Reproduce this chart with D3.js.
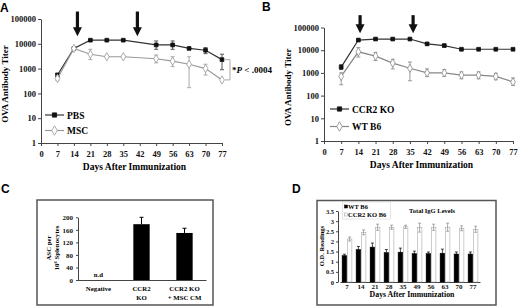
<!DOCTYPE html>
<html>
<head>
<meta charset="utf-8">
<script src="https://cdn.jsdelivr.net/npm/d3@7"></script>
<style>
  body { margin: 0; background: #fff; }
  text { font-family: "Liberation Serif", "Times New Roman", serif; font-weight: bold; }
</style>
</head>
<body>
<script>
// ---- panel A data (OVA titer, PBS vs MSC)
var daysA = [7, 14, 21, 28, 35, 49, 56, 63, 70, 77];
var pbs   = [550, 6500, 14000, 14000, 14000, 9000, 9000, 6500, 5500, 2300];
var pbsLo = [450, 6000, 13000, 13000, 13000, 6000, 6000, 6000, 4000, 900];
var pbsHi = [650, 7000, 15000, 15000, 15000, 13000, 13000, 7000, 7000, 3800];
var msc   = [400, 6500, 3800, 3000, 3000, 2500, 2000, 1500, 1000, 350];
var mscLo = [330, 6000, 2300, 2800, 2800, 1700, 1200, 170, 550, 330];
var mscHi = [500, 7000, 6000, 3200, 3200, 3500, 3000, 3000, 1500, 380];
var arrowsA = [15.5, 41];

// ---- panel B data (CCR2 KO vs WT B6)
var daysB  = [7, 14, 21, 28, 35, 42, 49, 56, 63, 70, 77];
var ccr2   = [1800, 28000, 31000, 31000, 31000, 19000, 16000, 11000, 11000, 11000, 11000];
var ccr2Lo = [1400, 25000, 29000, 29000, 29000, 16500, 14000, 10500, 10500, 10500, 10500];
var ccr2Hi = [2300, 31000, 33000, 33000, 33000, 21500, 18000, 11500, 11500, 11500, 11500];
var wt     = [700, 8500, 5500, 2700, 1600, 1000, 1000, 800, 800, 700, 400];
var wtLo   = [300, 5000, 3500, 1500, 450, 700, 700, 550, 550, 500, 280];
var wtHi   = [1000, 13000, 8000, 4000, 3000, 1500, 1400, 1100, 1100, 950, 600];
var arrowsB = [14.7, 36.3];

var dayTicks = [0, 7, 14, 21, 28, 35, 42, 49, 56, 63, 70, 77];
var titerTicks = [1, 10, 100, 1000, 10000, 100000];

// ---- panel C data (ASC)
var groupsC = ["Negative", "CCR2 KO", "CCR2 KO + MSC CM"];
var ascVals = [0, 178, 150];
var ascErr  = [0, 22, 15];
var ascTicks = [0, 40, 80, 120, 160, 200];

// ---- panel D data (total IgG)
var daysD   = [7, 14, 21, 28, 35, 49, 56, 63, 70, 77];
var wtIgG   = [1.3, 1.6, 1.72, 1.45, 1.47, 1.4, 1.4, 1.42, 1.38, 1.38];
var wtIgGe  = [0.07, 0.15, 0.2, 0.15, 0.2, 0.12, 0.08, 0.2, 0.1, 0.1];
var koIgG   = [2.12, 2.45, 2.7, 2.7, 2.72, 2.68, 2.7, 2.7, 2.65, 2.6];
var koIgGe  = [0.1, 0.12, 0.15, 0.1, 0.08, 0.22, 0.15, 0.2, 0.12, 0.15];
var odTicks = [0, 0.5, 1, 1.5, 2, 2.5, 3, 3.5];

var svg = d3.select("body")
    .append("svg")
    .attr("width", 520)
    .attr("height", 306);

svg.append("rect").attr("width", 520).attr("height", 306).attr("fill", "#fff");

function panelLetter(x, y, t) {
    svg.append("text")
        .attr("x", x).attr("y", y)
        .style("font-family", "'Liberation Sans', Arial, sans-serif")
        .style("font-size", "12px")
        .text(t);
}

function styleAxis(g, size) {
    g.select(".domain").attr("stroke", "#444");
    g.selectAll(".tick line").attr("stroke", "#444");
    g.selectAll("text").style("font-size", size).attr("fill", "#111")
        .style("font-family", "'Liberation Serif', serif");
}

// line chart with log titer axis
function linePanel(p) {
    var xScale = d3.scaleLinear().domain([0, 77]).range(p.xr);
    var yScale = d3.scaleLog().domain([1, 100000]).range(p.yr);

    var gy = svg.append("g")
        .attr("transform", "translate(" + p.xr[0] + ",0)")
        .call(d3.axisLeft(yScale).tickValues(titerTicks).tickFormat(d3.format("d"))
            .tickSize(3).tickSizeOuter(0).tickPadding(2));
    styleAxis(gy, "8.5px");

    var gx = svg.append("g")
        .attr("transform", "translate(0," + p.yr[0] + ")")
        .call(d3.axisBottom(xScale).tickValues(dayTicks).tickSize(3).tickSizeOuter(0).tickPadding(5));
    styleAxis(gx, "8.5px");

    svg.append("text")
        .attr("x", (p.xr[0] + p.xr[1]) / 2 + 3)
        .attr("y", p.yr[0] + 27)
        .attr("text-anchor", "middle")
        .style("font-size", "9.5px")
        .text("Days After Immunization");

    svg.append("text")
        .attr("transform", "translate(" + (p.xr[0] - 33) + "," + ((p.yr[0] + p.yr[1]) / 2 + 3) + ") rotate(-90)")
        .attr("text-anchor", "middle")
        .style("font-size", "9px")
        .text("OVA Antibody Titer");

    // arrows (booster injections)
    p.arrows.forEach(a => {
        var ax = xScale(a);
        var tip = yScale(p.arrowTip);
        svg.append("line")
            .attr("x1", ax).attr("x2", ax)
            .attr("y1", yScale(p.arrowTop)).attr("y2", tip - 7)
            .attr("stroke", "#111").attr("stroke-width", 3.2);
        svg.append("path")
            .attr("d", "M" + (ax - 4.5) + "," + (tip - 9) + "L" + (ax + 4.5) + "," + (tip - 9) +
                "L" + ax + "," + tip + "Z")
            .attr("fill", "#111");
    });

    p.series.forEach(s => {
        var pts = s.days.map((d, i) => ({ d: d, v: s.vals[i], lo: s.lo[i], hi: s.hi[i] }));
        var g = svg.append("g");
        g.selectAll("line.err")
            .data(pts)
            .enter()
            .append("line")
            .attr("x1", d => xScale(d.d)).attr("x2", d => xScale(d.d))
            .attr("y1", d => yScale(d.lo)).attr("y2", d => yScale(d.hi))
            .attr("stroke", s.errColor).attr("stroke-width", 1);
        ["lo", "hi"].forEach(k => {
            g.selectAll("line.cap" + k)
                .data(pts)
                .enter()
                .append("line")
                .attr("x1", d => xScale(d.d) - 2).attr("x2", d => xScale(d.d) + 2)
                .attr("y1", d => yScale(d[k])).attr("y2", d => yScale(d[k]))
                .attr("stroke", s.errColor).attr("stroke-width", 1);
        });
        g.append("path")
            .datum(pts)
            .attr("fill", "none")
            .attr("stroke", s.color)
            .attr("stroke-width", 1.2)
            .attr("d", d3.line().x(d => xScale(d.d)).y(d => yScale(d.v)));
        g.selectAll("path.mk")
            .data(pts)
            .enter()
            .append("path")
            .attr("transform", d => "translate(" + xScale(d.d) + "," + yScale(d.v) + ")")
            .attr("d", d3.symbol(s.symbol, s.symSize))
            .attr("fill", s.fill)
            .attr("stroke", s.stroke)
            .attr("stroke-width", 0.8);
    });

    // legend
    p.series.forEach((s, i) => {
        var ly = p.legend[1] + i * p.legendGap;
        var lx = p.legend[0];
        svg.append("line")
            .attr("x1", lx).attr("x2", lx + 19)
            .attr("y1", ly).attr("y2", ly)
            .attr("stroke", s.color).attr("stroke-width", 1.2);
        svg.append("path")
            .attr("transform", "translate(" + (lx + 9.5) + "," + ly + ")")
            .attr("d", d3.symbol(s.symbol, s.symSize * 1.3))
            .attr("fill", s.fill).attr("stroke", s.stroke).attr("stroke-width", 0.8);
        svg.append("text")
            .attr("x", lx + 22).attr("y", ly + 3.5)
            .style("font-size", "9.5px")
            .text(s.name);
    });
    return { x: xScale, y: yScale };
}

panelLetter(0, 12, "A");
var sa = linePanel({
    xr: [41, 222], yr: [143, 19],
    arrows: arrowsA, arrowTop: 200000, arrowTip: 20000,
    legend: [45, 115], legendGap: 15.5,
    series: [
        { name: "PBS", days: daysA, vals: pbs, lo: pbsLo, hi: pbsHi, color: "#333", errColor: "#555",
          symbol: d3.symbolSquare, symSize: 14, fill: "#111", stroke: "#111" },
        { name: "MSC", days: daysA, vals: msc, lo: mscLo, hi: mscHi, color: "#999", errColor: "#aaa",
          symbol: d3.symbolDiamond, symSize: 20, fill: "#fff", stroke: "#999" }
    ]
});

// significance bracket at day 77
var bx = sa.x(77) + 8;
svg.append("path")
    .attr("d", "M" + (bx - 5) + "," + sa.y(pbs[9]) + "H" + bx + "V" + sa.y(msc[9]) + "H" + (bx - 5))
    .attr("fill", "none").attr("stroke", "#aaa").attr("stroke-width", 1);
var sig = svg.append("text")
    .attr("x", bx + 2).attr("y", (sa.y(pbs[9]) + sa.y(msc[9])) / 2 + 3)
    .style("font-size", "9px");
sig.append("tspan").text("*");
sig.append("tspan").style("font-style", "italic").text("P");
sig.append("tspan").text(" < .0004");

panelLetter(262, 11, "B");
linePanel({
    xr: [324, 513], yr: [141, 27.5],
    arrows: arrowsB, arrowTop: 350000, arrowTip: 56000,
    legend: [330, 109], legendGap: 17.5,
    series: [
        { name: "CCR2 KO", days: daysB, vals: ccr2, lo: ccr2Lo, hi: ccr2Hi, color: "#333", errColor: "#555",
          symbol: d3.symbolSquare, symSize: 14, fill: "#111", stroke: "#111" },
        { name: "WT B6", days: daysB, vals: wt, lo: wtLo, hi: wtHi, color: "#888", errColor: "#999",
          symbol: d3.symbolDiamond, symSize: 20, fill: "#fff", stroke: "#888" }
    ]
});

// ---- panel C
panelLetter(1, 193, "C");
svg.append("rect")
    .attr("x", 37).attr("y", 200).attr("width", 176).attr("height", 105)
    .attr("fill", "none").attr("stroke", "#555").attr("stroke-width", 1.5);

var xC = d3.scaleBand().domain(groupsC).range([77, 206]).paddingInner(0.62).paddingOuter(0.31);
var yC = d3.scaleLinear().domain([0, 200]).range([280, 217.3]);

var gyC = svg.append("g").attr("transform", "translate(78,0)")
    .call(d3.axisLeft(yC).tickValues(ascTicks).tickSize(2).tickSizeOuter(0).tickPadding(3));
styleAxis(gyC, "7px");
var gxC = svg.append("g").attr("transform", "translate(0,280)")
    .call(d3.axisBottom(xC).tickSize(0).tickSizeOuter(0).tickFormat(""));
styleAxis(gxC, "7px");

var cLabels = [["Negative"], ["CCR2", "KO"], ["CCR2 KO", "+ MSC CM"]];
groupsC.forEach((g, i) => {
    cLabels[i].forEach((t, j) => {
        svg.append("text")
            .attr("x", xC(g) + xC.bandwidth() / 2)
            .attr("y", 291 + j * 9)
            .attr("text-anchor", "middle")
            .style("font-size", "6.8px")
            .text(t);
    });
});

svg.selectAll("rect.barC")
    .data(ascVals)
    .enter()
    .append("rect")
    .attr("x", (d, i) => xC(groupsC[i]))
    .attr("y", d => yC(d))
    .attr("width", xC.bandwidth())
    .attr("height", d => yC(0) - yC(d))
    .attr("fill", "#000");
ascVals.forEach((v, i) => {
    if (!v) return;
    var cx = xC(groupsC[i]) + xC.bandwidth() / 2;
    svg.append("line").attr("x1", cx).attr("x2", cx).attr("y1", yC(v)).attr("y2", yC(v + ascErr[i]))
        .attr("stroke", "#000");
    svg.append("line").attr("x1", cx - 2).attr("x2", cx + 2).attr("y1", yC(v + ascErr[i])).attr("y2", yC(v + ascErr[i]))
        .attr("stroke", "#000");
});
svg.append("text")
    .attr("x", xC(groupsC[0]) + xC.bandwidth() / 2)
    .attr("y", 277)
    .attr("text-anchor", "middle")
    .style("font-size", "6.8px")
    .text("n.d");

var cTitle = svg.append("text")
    .attr("transform", "translate(51,248) rotate(-90)")
    .attr("text-anchor", "middle")
    .style("font-size", "6.8px");
cTitle.append("tspan").attr("x", 0).attr("dy", 0).text("ASC per");
var t2 = cTitle.append("tspan").attr("x", 0).attr("dy", 8).text("10");
t2.append("tspan").attr("dy", -2).style("font-size", "4.5px").text("6");
t2.append("tspan").attr("dy", 2).text(" Splenocytes");

// ---- panel D
panelLetter(292, 193, "D");
svg.append("rect")
    .attr("x", 317).attr("y", 200.5).attr("width", 179).attr("height", 104.5)
    .attr("fill", "none").attr("stroke", "#555").attr("stroke-width", 1.5);

var xD = d3.scaleBand().domain(daysD).range([340, 480]).paddingInner(0.3).paddingOuter(0.15);
var subD = d3.scaleBand().domain(["wt", "ko"]).range([0, xD.bandwidth()]).paddingInner(0.12);
var yD = d3.scaleLinear().domain([0, 3.5]).range([282, 211]);

var gyD = svg.append("g").attr("transform", "translate(338,0)")
    .call(d3.axisLeft(yD).tickValues(odTicks).tickFormat(d => d).tickSize(2).tickSizeOuter(0).tickPadding(2));
styleAxis(gyD, "6.5px");
var gxD = svg.append("g").attr("transform", "translate(0,282)")
    .call(d3.axisBottom(xD).tickSize(0).tickSizeOuter(0).tickPadding(2));
styleAxis(gxD, "7px");

var dRows = daysD.map((d, i) => ({ d: d, wt: wtIgG[i], wte: wtIgGe[i], ko: koIgG[i], koe: koIgGe[i] }));
[["wt", "wte", "#000", "#000", "#000"], ["ko", "koe", "#fff", "#999", "#888"]].forEach(k => {
    svg.selectAll("rect.bar" + k[0])
        .data(dRows)
        .enter()
        .append("rect")
        .attr("x", d => xD(d.d) + subD(k[0]))
        .attr("y", d => yD(d[k[0]]))
        .attr("width", subD.bandwidth())
        .attr("height", d => yD(0) - yD(d[k[0]]))
        .attr("fill", k[2])
        .attr("stroke", k[3])
        .attr("stroke-width", 0.5);
    svg.selectAll("path.err" + k[0])
        .data(dRows)
        .enter()
        .append("path")
        .attr("d", d => {
            var cx = xD(d.d) + subD(k[0]) + subD.bandwidth() / 2;
            var y1 = yD(d[k[0]] - d[k[1]]), y2 = yD(d[k[0]] + d[k[1]]);
            return "M" + cx + "," + y1 + "V" + y2 + "M" + (cx - 1.5) + "," + y2 + "H" + (cx + 1.5) +
                "M" + (cx - 1.5) + "," + y1 + "H" + (cx + 1.5);
        })
        .attr("fill", "none")
        .attr("stroke", k[4])
        .attr("stroke-width", 0.7);
});

svg.append("text")
    .attr("transform", "translate(324,246) rotate(-90)")
    .attr("text-anchor", "middle")
    .style("font-size", "6.5px")
    .text("O.D. Readings");
svg.append("text")
    .attr("x", 412).attr("y", 297)
    .attr("text-anchor", "middle")
    .style("font-size", "7.8px")
    .text("Days After Immunization");
svg.append("text")
    .attr("x", 432).attr("y", 213)
    .attr("text-anchor", "middle")
    .style("font-size", "6.5px")
    .text("Total IgG Levels");

// legend D
svg.append("rect").attr("x", 342.5).attr("y", 202).attr("width", 48).attr("height", 17)
    .attr("fill", "#fff").attr("stroke", "#ccc").attr("stroke-width", 0.5);
[["WT B6", "#000", "#000"], ["CCR2 KO B6", "#fff", "#999"]].forEach((l, i) => {
    svg.append("rect").attr("x", 344.5).attr("y", 205 + i * 8).attr("width", 3).attr("height", 3)
        .attr("fill", l[1]).attr("stroke", l[2]).attr("stroke-width", 0.5);
    svg.append("text").attr("x", 348).attr("y", 208.5 + i * 8)
        .style("font-size", "6.5px").text(l[0]);
});
</script>
</body>
</html>
